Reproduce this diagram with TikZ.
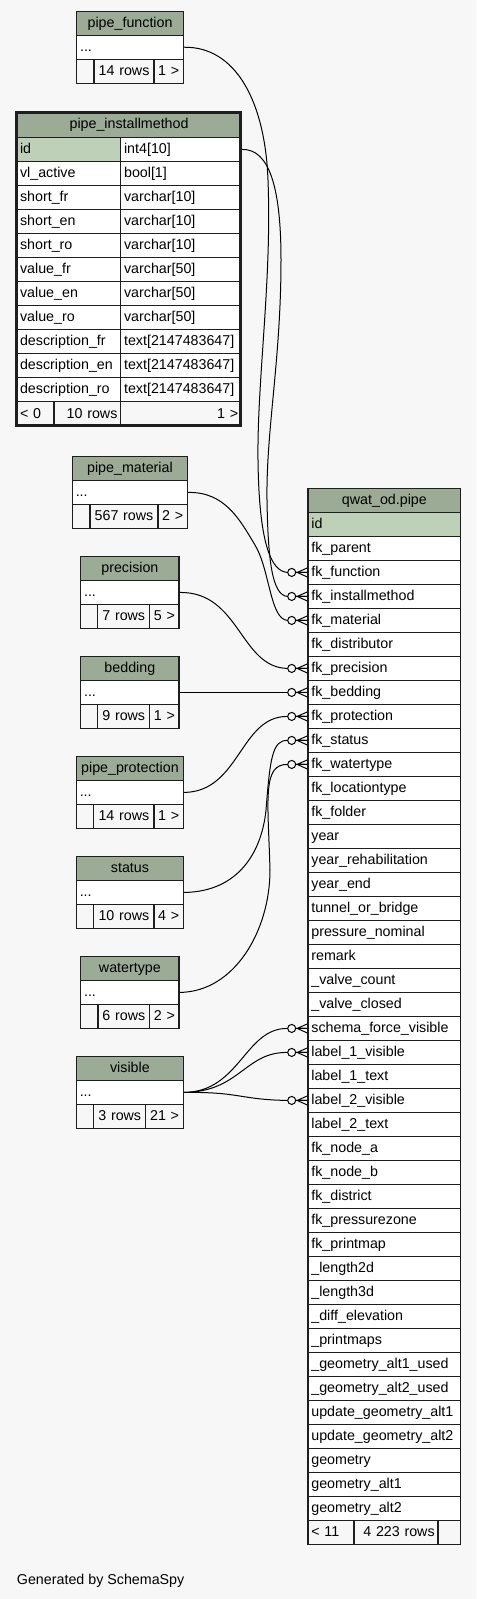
\documentclass[tikz,border=0pt]{standalone}
\usepackage{fontspec}
\setmainfont{Liberation Sans}
\definecolor{bgc}{HTML}{F7F7F7}
\definecolor{hdr}{HTML}{9BAB96}
\definecolor{pkc}{HTML}{BED1B8}
\definecolor{foot}{HTML}{F7F7F7}
\definecolor{linec}{HTML}{1E1E1E}
\newcommand{\fsz}{\fontsize{10.7pt}{12pt}\selectfont}
\tikzset{
  cellbox/.style={draw=linec, line width=1.1pt, anchor=north west, inner xsep=2.5pt, inner ysep=0pt,
    text height=8pt, text depth=2pt, font=\fsz},
  fk/.style={draw=black, line width=0.75pt},
}
% \tcell[align]{name}{x1}{y1}{x2}{y2}{fill}{text}
\newcommand{\tcell}[8][left]{%
  \node[cellbox, fill=#7, align=#1, minimum height={((#6)-(#4))*0.75pt},
        text width={((#5)-(#3))*0.75pt-5pt}] (#2) at ({#3},{#4}) {#8};}
% \smtable{prefix}{title}{x1}{x2}{top}{div1}{div2}{rows}{count}
\newcommand{\smtable}[9]{%
  \tcell[center]{#1-h}{#3}{#5}{#4}{#5+24}{hdr}{#2}
  \tcell{#1-r}{#3}{#5+24}{#4}{#5+48}{white}{...}
  \tcell{#1-f1}{#3}{#5+48}{#6}{#5+72}{foot}{}
  \tcell[center]{#1-f2}{#6}{#5+48}{#7}{#5+72}{foot}{#8}
  \tcell[center]{#1-f3}{#7}{#5+48}{#4}{#5+72}{foot}{#9}
}
\newcommand{\crowfoot}[1]{%
  \draw[fk] ([xshift=-7.6pt]#1.west) -- ([yshift=3.4pt]#1.west)
            ([xshift=-7.6pt]#1.west) -- ([yshift=-3.4pt]#1.west)
            ([xshift=-8.7pt]#1.west) -- (#1.west);
  \filldraw[fk, fill=bgc] ([xshift=-11.7pt]#1.west) circle (3pt);
}
\begin{document}
\begin{tikzpicture}[x=0.75pt,y=-0.75pt]
\fill[bgc] (0,0) rectangle (476,1599);
\useasboundingbox (0,0) rectangle (476,1599);

% small tables
\smtable{pf}{pipe\_function}{76}{182.7}{10.5}{93.3}{153.3}{14 rows}{1 >}
\smtable{pm}{pipe\_material}{71.7}{186.7}{455.7}{89.3}{157.3}{567 rows}{2 >}
\smtable{pc}{precision}{80}{178.3}{555.7}{97}{149}{7 rows}{5 >}
\smtable{bd}{bedding}{80}{178.3}{655.7}{97}{149}{9 rows}{1 >}
\smtable{pp}{pipe\_protection}{75.7}{182.7}{755.7}{93}{153.3}{14 rows}{1 >}
\smtable{st}{status}{75.7}{182.7}{855.7}{93}{153.3}{10 rows}{4 >}
\smtable{wt}{watertype}{80}{178.3}{955.7}{97.3}{149}{6 rows}{2 >}
\smtable{vi}{visible}{75.7}{182.7}{1055.7}{93}{145}{3 rows}{21 >}

% pipe_installmethod
\tcell[center]{im-h}{16}{111.7}{240.7}{136.7}{hdr}{pipe\_installmethod}
\tcell{ima0}{16}{136.7}{120}{160.73}{pkc}{id}
\tcell{imb0}{120}{136.7}{240.7}{160.73}{white}{int4[10]}
\foreach \a/\b [count=\i] in {vl\_active/bool[1], short\_fr/varchar[10], short\_en/varchar[10],
  short\_ro/varchar[10], value\_fr/varchar[50], value\_en/varchar[50], value\_ro/varchar[50],
  description\_fr/text[2147483647], description\_en/text[2147483647], description\_ro/text[2147483647]} {
  \pgfmathsetmacro\yt{136.7+24.03*\i}
  \pgfmathsetmacro\yb{\yt+24.03}
  \tcell{ima\i}{16}{\yt}{120}{\yb}{white}{\a}
  \tcell{imb\i}{120}{\yt}{240.7}{\yb}{white}{\b}
}
\tcell{im-f1}{16}{401}{53.3}{425.7}{foot}{< 0}
\tcell[right]{im-f2}{53.3}{401}{120}{425.7}{foot}{10 rows}
\tcell[right]{im-f3}{120}{401}{240.7}{425.7}{foot}{1 >}
\draw[linec, line width=2.4pt] (16.6,112.3) rectangle (240.1,425.1);

% qwat_od.pipe
\tcell[center]{p-h}{307.3}{487.7}{460}{511.7}{hdr}{qwat\_od.pipe}
\tcell{pr0}{307.3}{511.7}{460}{535.7}{pkc}{id}
\foreach \a [count=\i] in {fk\_parent, fk\_function, fk\_installmethod, fk\_material, fk\_distributor,
  fk\_precision, fk\_bedding, fk\_protection, fk\_status, fk\_watertype, fk\_locationtype, fk\_folder,
  year, year\_rehabilitation, year\_end, tunnel\_or\_bridge, pressure\_nominal, remark,
  \_valve\_count, \_valve\_closed, schema\_force\_visible, label\_1\_visible, label\_1\_text,
  label\_2\_visible, label\_2\_text, fk\_node\_a, fk\_node\_b, fk\_district, fk\_pressurezone,
  fk\_printmap, \_length2d, \_length3d, \_diff\_elevation, \_printmaps, \_geometry\_alt1\_used,
  \_geometry\_alt2\_used, update\_geometry\_alt1, update\_geometry\_alt2, geometry,
  geometry\_alt1, geometry\_alt2} {
  \pgfmathsetmacro\yt{511.7+24*\i}
  \pgfmathsetmacro\yb{\yt+24}
  \tcell{pr\i}{307.3}{\yt}{460}{\yb}{white}{\a}
}
\tcell{p-f1}{307.3}{1519.7}{353.3}{1543.7}{foot}{< 11}
\tcell[right]{p-f2}{353.3}{1519.7}{437.3}{1543.7}{foot}{4 223 rows}
\tcell{p-f3}{437.3}{1519.7}{460}{1543.7}{foot}{}

% connectors
\draw[fk] (pf-r.east) .. controls (235,46.5) and (265,100) .. (268,180)
  .. controls (272,280) and (257,380) .. (258,460)
  .. controls (259,540) and (270,571.7) .. ([xshift=-14.7pt]pr2.west) -- (pr2.west);
\draw[fk] (imb0.east) .. controls (270,148.7) and (281,190) .. (281,260)
  .. controls (281,360) and (266,430) .. (267,500)
  .. controls (268,560) and (272,595.7) .. ([xshift=-14.7pt]pr3.west) -- (pr3.west);
\draw[fk] (pm-r.east) .. controls (225,491.7) and (240,520) .. (255,545)
  .. controls (270,570) and (270,619.7) .. ([xshift=-14.7pt]pr4.west) -- (pr4.west);
\draw[fk] (pc-r.east) .. controls (240,591.7) and (240,667.7) .. ([xshift=-14.7pt]pr6.west) -- (pr6.west);
\draw[fk] (bd-r.east) -- (pr7.west);
\draw[fk] (pp-r.east) .. controls (240,791.7) and (240,715.7) .. ([xshift=-14.7pt]pr8.west) -- (pr8.west);
\draw[fk] (st-r.east) .. controls (240,891.7) and (262,850) .. (266,810)
  .. controls (270,760) and (272,739.7) .. ([xshift=-14.7pt]pr9.west) -- (pr9.west);
\draw[fk] (wt-r.east) .. controls (235,991.7) and (270,930) .. (270,870)
  .. controls (268,800) and (262,763.7) .. ([xshift=-14.7pt]pr10.west) -- (pr10.west);
\draw[fk] (vi-r.east) .. controls (240,1091.7) and (245,1027.7) .. ([xshift=-14.7pt]pr21.west) -- (pr21.west);
\draw[fk] (vi-r.east) .. controls (240,1091.7) and (245,1051.7) .. ([xshift=-14.7pt]pr22.west) -- (pr22.west);
\draw[fk] (vi-r.east) .. controls (240,1091.7) and (240,1099.7) .. ([xshift=-14.7pt]pr24.west) -- (pr24.west);

\foreach \t in {pr2,pr3,pr4,pr6,pr7,pr8,pr9,pr10,pr21,pr22,pr24} {\crowfoot{\t}}

\node[font=\fsz, anchor=base west, inner sep=0pt] (gen) at (16.7,1584.3) {Generated by SchemaSpy};
\end{tikzpicture}
\end{document}
